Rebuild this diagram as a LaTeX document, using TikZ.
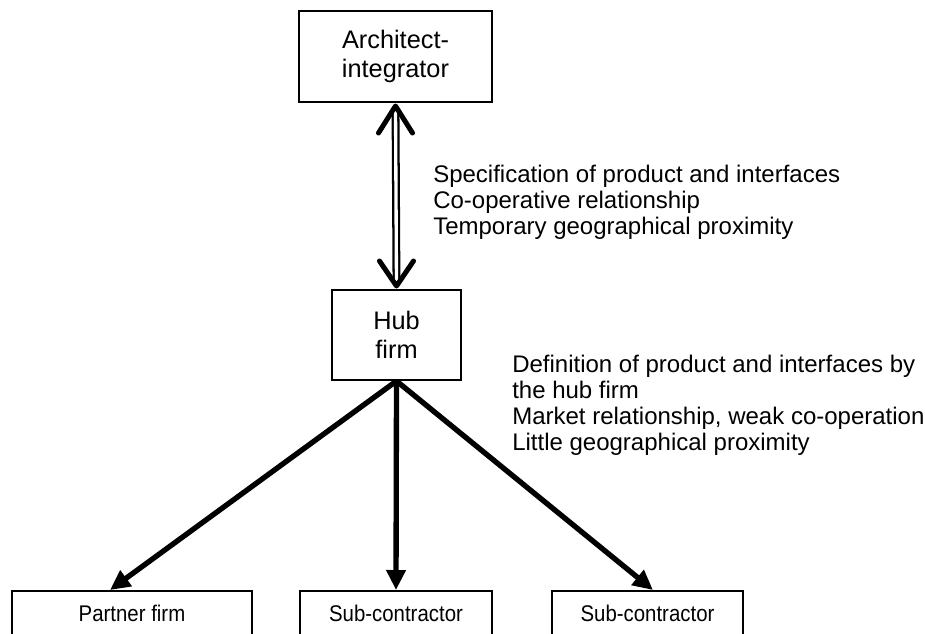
\documentclass[tikz,border=0pt]{standalone}
\usepackage{fontspec}
\setmainfont{Liberation Sans}
\newfontfamily\narrowsans[FakeStretch=0.9]{Liberation Sans}
\usetikzlibrary{arrows.meta,calc}

\begin{document}
\begin{tikzpicture}[x=0.75pt,y=-0.75pt,
  firmbox/.style={draw,line width=1.5pt,align=center,inner sep=0pt,
    font=\fontsize{19}{22}\selectfont},
  lowbox/.style={draw,line width=1.5pt,anchor=north,inner xsep=0pt,inner ysep=10pt,
    text height=12.5pt,text depth=40pt,font=\narrowsans\fontsize{17}{20}\selectfont},
  notes/.style={anchor=north west,align=left,inner sep=0pt,
    font=\fontsize{18}{19.5}\selectfont},
  flow/.style={line width=4pt,-{Triangle[length=15pt,width=14pt]}},
  vhead/.style={line width=3.75pt,line cap=round,line join=round}]
\useasboundingbox (0,0) rectangle (925,633);
\clip (0,0) rectangle (925,633);
% Firms
\node[firmbox,minimum width=144.75pt,minimum height=68.25pt] (arch) at (395.5,56.5) {Architect-\\integrator};
\node[firmbox,minimum width=96.75pt,minimum height=67.5pt] (hub) at (396.5,335) {Hub\\firm};
\node[lowbox,minimum width=180pt] (partner) at (132,590) {Partner firm};
\node[lowbox,minimum width=144pt] (subA) at (396,590) {Sub-contractor};
\node[lowbox,minimum width=143.25pt] (subB) at (647.5,590) {Sub-contractor};
% Architect -- hub link
\draw[line width=1.7pt,double,double distance=2.5pt] ($(arch.south)+(0,5)$) -- ($(hub.north)+(0,-5)$);
\draw[vhead] ($(arch.south)+(-17,30)$) -- ($(arch.south)+(0,3)$) -- ($(arch.south)+(17,30)$);
\draw[vhead] ($(hub.north)+(-17,-28)$) -- ($(hub.north)+(0,-3)$) -- ($(hub.north)+(17,-28)$);
\node[notes] (spec) at (433,165) {Specification of product and interfaces\\Co-operative relationship\\Temporary geographical proximity};
% Hub -- suppliers
\draw[flow] (hub.south) -- ($(partner.north)+(-22,0)$);
\draw[flow] (hub.south) -- (subA.north);
\draw[flow] (hub.south) -- ($(subB.north)+(5.5,0)$);
\node[notes] (defn) at (512,355) {Definition of product and interfaces by\\the hub firm\\Market relationship, weak co-operation\\Little geographical proximity};
\end{tikzpicture}
\end{document}
